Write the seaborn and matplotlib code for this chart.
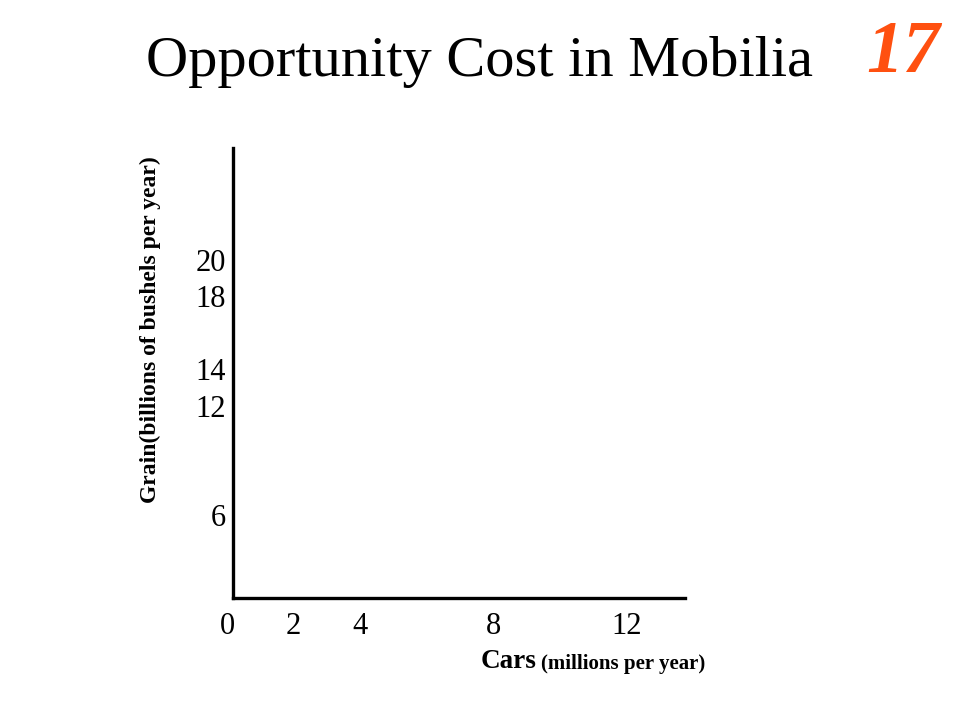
import matplotlib
matplotlib.use("Agg")
import matplotlib.pyplot as plt
import seaborn as sns

# tick values shown on the slide
car_ticks = [0, 2, 4, 8, 12]
grain_ticks = [6, 12, 14, 18, 20]

title = "Opportunity Cost in Mobilia"
slide_number = "17"
y_label = "Grain(billions of bushels per year)"

sns.set_style("white")
plt.rcParams['font.family'] = ['Liberation Serif', 'DejaVu Serif']
plt.rcParams['text.color'] = 'black'

# axes start a little left of the drawn y axis so the "0" sits left of it
fig = plt.figure(figsize=(9.6, 7.2), dpi=100)
ax = fig.add_axes([227 / 960, 1 - 598 / 720, (685 - 227) / 960, (598 - 148) / 720])

ax.set_xticks(car_ticks)
ax.set_yticks(grain_ticks)
ax.set_xlim(0, 13.76)
ax.set_ylim(1.41, 26.17)
ax.tick_params(axis='both', length=0, labelsize=22, colors='black')
ax.tick_params(axis='x', pad=10)
ax.tick_params(axis='y', pad=5)
sns.despine(ax=ax)
ax.spines['left'].set_position(('data', 0.18))
ax.spines['bottom'].set_bounds(0.18, 13.76)
for side in ['left', 'bottom']:
    ax.spines[side].set_linewidth(2.4)
    ax.spines[side].set_color('black')

fig.text(480 / 960, 1 - 62 / 720, title, ha='center', va='center', fontsize=42, color='black')
fig.text(903 / 960, 1 - 54 / 720, slide_number, ha='center', va='center',
         fontsize=53, fontweight='bold', fontstyle='italic', color='#FF5010')
fig.text(150 / 960, 1 - 330 / 720, y_label, rotation=90, ha='center', va='center',
         fontsize=17, fontweight='bold', color='black')
fig.text(537 / 960, 1 - 662 / 720, "Cars", ha='right', va='center',
         fontsize=19.5, fontweight='bold', color='black')
fig.text(541 / 960, 1 - 664 / 720, "(millions per year)", ha='left', va='center',
         fontsize=15, fontweight='bold', color='black')

fig.savefig("out.png", dpi=100)
